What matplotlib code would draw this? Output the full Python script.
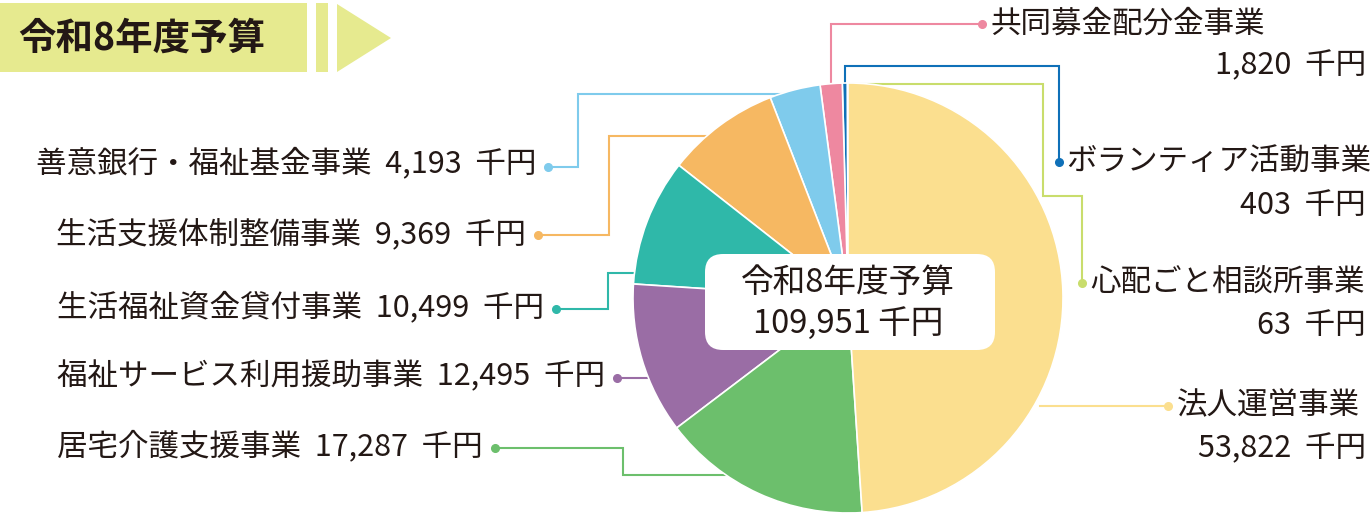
import matplotlib
matplotlib.use("Agg")
import matplotlib.pyplot as plt
from matplotlib.patches import FancyBboxPatch, Rectangle, Polygon

plt.rcParams['font.family'] = ['Noto Sans CJK JP', 'DejaVu Sans']

# ---- data (counter-clockwise from top) ----
categories = ['心配ごと相談所事業', 'ボランティア活動事業', '共同募金配分金事業',
              '善意銀行・福祉基金事業', '生活支援体制整備事業', '生活福祉資金貸付事業',
              '福祉サービス利用援助事業', '居宅介護支援事業', '法人運営事業']
values = [63, 403, 1820, 4193, 9369, 10499, 12495, 17287, 53822]
value_labels = ['63', '403', '1,820', '4,193', '9,369', '10,499', '12,495', '17,287', '53,822']
colors = ['#c9dd6c', '#0f70b8', '#ee88a0', '#7fcbec', '#f6b862', '#2fb8a9',
          '#9a6da5', '#6cbf6c', '#fbdf8f']
title_text = '令和8年度予算'
total_label = '109,951 千円'
unit = '千円'

W, H = 1372, 514
TXT = '#231815'
FS = 22

fig = plt.figure(figsize=(W / 100, H / 100), dpi=100)
ax = fig.add_axes([0, 0, 1, 1])


def Y(y):
    return H - y


# pie
cx, cy, r = 848, Y(298), 215
ax.pie(values, colors=colors, startangle=90, counterclock=True,
       center=(cx, cy), radius=r, frame=True,
       wedgeprops=dict(linewidth=1.2, edgecolor='white', zorder=3))
ax.set_xlim(0, W)
ax.set_ylim(0, H)
ax.set_aspect('equal')
ax.axis('off')

# connectors (px measured from top)
connectors = {
    '共同募金配分金事業': [(831, 100), (831, 24), (982, 24)],
    'ボランティア活動事業': [(845, 100), (845, 66), (1059, 66), (1059, 162)],
    '心配ごと相談所事業': [(849, 84), (1043, 84), (1043, 196), (1082, 196), (1082, 283)],
    '法人運営事業': [(1040, 406), (1168, 406)],
    '善意銀行・福祉基金事業': [(548, 167), (578, 167), (578, 94), (800, 94)],
    '生活支援体制整備事業': [(538, 235), (609, 235), (609, 136), (730, 136)],
    '生活福祉資金貸付事業': [(556, 309), (608, 309), (608, 273), (670, 273)],
    '福祉サービス利用援助事業': [(617, 378), (670, 378)],
    '居宅介護支援事業': [(495, 448), (623, 448), (623, 475), (760, 475)],
}
dots = {
    '共同募金配分金事業': (982, 24), 'ボランティア活動事業': (1059, 162),
    '心配ごと相談所事業': (1082, 283), '法人運営事業': (1168, 406),
    '善意銀行・福祉基金事業': (548, 167), '生活支援体制整備事業': (538, 235),
    '生活福祉資金貸付事業': (556, 309), '福祉サービス利用援助事業': (617, 378),
    '居宅介護支援事業': (495, 448),
}
for name, pts in connectors.items():
    c = colors[categories.index(name)]
    ax.plot([p[0] for p in pts], [Y(p[1]) for p in pts], color=c, lw=1.5, zorder=2,
            solid_joinstyle='miter')
    dx, dy = dots[name]
    ax.plot(dx, Y(dy), 'o', color=c, ms=5.5, zorder=4)

# left labels (right-aligned just before the dot)
left_pos = {'善意銀行・福祉基金事業': 163, '生活支援体制整備事業': 235,
            '生活福祉資金貸付事業': 307, '福祉サービス利用援助事業': 377,
            '居宅介護支援事業': 446}
for name, y in left_pos.items():
    v = value_labels[categories.index(name)]
    dx = dots[name][0]
    ax.text(dx - 12, Y(y), f'{name}  {v}  {unit}', fontsize=FS, color=TXT,
            ha='right', va='center', zorder=5)

# right labels
right_pos = {'共同募金配分金事業': (990, 24, 66), 'ボランティア活動事業': (1066, 162, 206),
             '心配ごと相談所事業': (1090, 283, 325), '法人運営事業': (1177, 406, 449)}
for name, (x, y1, y2) in right_pos.items():
    v = value_labels[categories.index(name)]
    ax.text(x, Y(y1), name, fontsize=FS, color=TXT, ha='left', va='center', zorder=5)
    ax.text(1366, Y(y2), f'{v}  {unit}', fontsize=FS, color=TXT, ha='right',
            va='center', zorder=5)

# center box
box = FancyBboxPatch((705, Y(350)), 290, 96, boxstyle='round,pad=0,rounding_size=18',
                     facecolor='white', edgecolor='none', zorder=6)
ax.add_patch(box)
ax.text(848, Y(283), title_text, fontsize=23.5, color=TXT, ha='center', va='center', zorder=7)
ax.text(848, Y(323), total_label, fontsize=23.5, color=TXT, ha='center', va='center', zorder=7)

# title banner
TC = '#e6ea8f'
ax.add_patch(Rectangle((0, Y(72)), 307, 69, facecolor=TC, edgecolor='none', zorder=1))
ax.add_patch(Rectangle((316, Y(72)), 12, 69, facecolor=TC, edgecolor='none', zorder=1))
ax.add_patch(Polygon([(337, Y(4)), (391, Y(38)), (337, Y(72))], closed=True,
                     facecolor=TC, edgecolor='none', zorder=1))
ax.text(18, Y(38), title_text, fontsize=27, fontweight='bold', color=TXT,
        ha='left', va='center', zorder=5)

fig.savefig('out.png', dpi=100)
